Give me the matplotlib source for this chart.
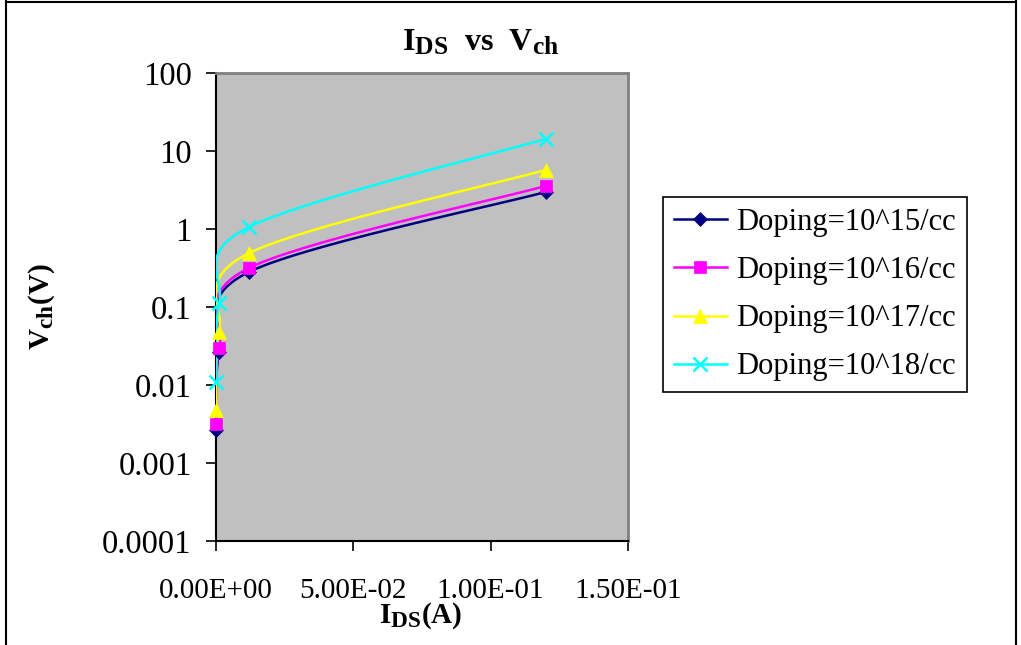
import numpy as np
import matplotlib
matplotlib.use("Agg")
import matplotlib.pyplot as plt
from matplotlib.lines import Line2D
import matplotlib._mathtext as _mt

# ---- data ----
ids = [1.2e-4, 1.2e-3, 1.2e-2, 1.2e-1]
vch_1e15 = [0.00265, 0.0265, 0.281, 2.98]
vch_1e16 = [0.00316, 0.0298, 0.316, 3.56]
vch_1e17 = [0.0048, 0.0478, 0.49, 5.71]
vch_1e18 = [0.011, 0.112, 1.06, 14.3]
series_labels = ["Doping=10^15/cc", "Doping=10^16/cc", "Doping=10^17/cc", "Doping=10^18/cc"]
y_ticks = [1e-4, 1e-3, 1e-2, 1e-1, 1, 10, 100]
y_ticklabels = ["0.0001", "0.001", "0.01", "0.1", "1", "10", "100"]
x_ticks = [0.0, 0.05, 0.10, 0.15]
x_ticklabels = ["0.00E+00", "5.00E-02", "1.00E-01", "1.50E-01"]

_mt.SHRINK_FACTOR = 0.8  # Excel-like larger subscripts

plt.rcParams['font.family'] = ['Liberation Serif', 'DejaVu Serif']
plt.rcParams['mathtext.fontset'] = 'custom'
plt.rcParams['mathtext.rm'] = 'Liberation Serif'
plt.rcParams['mathtext.bf'] = 'Liberation Serif:bold'
plt.rcParams['mathtext.it'] = 'Liberation Serif:italic'

W, H = 1021, 645
fig = plt.figure(figsize=(W / 100, H / 100), dpi=100)
fig.patch.set_facecolor('white')

ax_l, ax_r, ax_t, ax_b = 216, 628, 73, 541
ax = fig.add_axes([ax_l / W, 1 - ax_b / H, (ax_r - ax_l) / W, (ax_b - ax_t) / H])
ax.set_facecolor('#C0C0C0')
ax.set_yscale('log')
ax.set_xlim(0, 0.15)
ax.set_ylim(1e-4, 100)

# outer chart border
for xs, ys in [([5.5, 5.5], [0, 645]), ([1016, 1016], [0, 645]), ([5.5, 1016], [1.5, 1.5])]:
    fig.add_artist(Line2D([x / W for x in xs], [1 - y / H for y in ys], color='black', lw=1.5))

pw, ph = ax_r - ax_l, ax_b - ax_t
xmin, xmax = 0, 0.15
lmin, lmax = -4, 2


def smooth(xd, yd, n=40):
    # Excel-like smoothing (Catmull-Rom Bezier) in screen space
    u = np.array(xd) / (xmax - xmin) * pw
    v = (np.log10(yd) - lmin) / (lmax - lmin) * ph
    P = np.column_stack([u, v])
    pts = []
    m = len(P)
    for i in range(m - 1):
        p0 = P[max(i - 1, 0)]
        p1 = P[i]
        p2 = P[i + 1]
        p3 = P[min(i + 2, m - 1)]
        c1 = p1 + (p2 - p0) / 6
        c2 = p2 - (p3 - p1) / 6
        t = np.linspace(0, 1, n)[:, None]
        seg = ((1 - t) ** 3) * p1 + 3 * ((1 - t) ** 2) * t * c1 + 3 * (1 - t) * t ** 2 * c2 + t ** 3 * p2
        pts.append(seg if i == 0 else seg[1:])
    pts = np.vstack(pts)
    xs = pts[:, 0] / pw * (xmax - xmin)
    ys = 10 ** (pts[:, 1] / ph * (lmax - lmin) + lmin)
    return xs, ys


colors = ['#000080', '#FF00FF', '#FFFF00', '#00FFFF']
markers = ['D', 's', '^', 'x']
msizes = [7.5, 8, 10, 10]
all_series = [vch_1e15, vch_1e16, vch_1e17, vch_1e18]
handles = []
for s, c, mk, ms, lab in zip(all_series, colors, markers, msizes, series_labels):
    xs, ys = smooth(ids, s)
    ax.plot(xs, ys, color=c, lw=1.8, zorder=3)
    mew = 1.8 if mk == 'x' else 0.5
    ax.plot(ids, s, linestyle='none', marker=mk, color=c, markersize=ms,
            markeredgewidth=mew, zorder=4, clip_on=False)
    handles.append(Line2D([], [], color=c, lw=1.8, marker=mk, markersize=ms,
                          markeredgewidth=mew))

ax.set_yticks(y_ticks)
ax.set_yticklabels(y_ticklabels)
ax.yaxis.set_minor_locator(matplotlib.ticker.NullLocator())
ax.set_xticks(x_ticks)
ax.set_xticklabels(x_ticklabels)
ax.tick_params(axis='y', direction='out', length=7.5, width=1.2, pad=10, labelsize=23.5, color='black')
ax.tick_params(axis='x', direction='out', length=7.5, width=1.2, pad=19, labelsize=21, color='black')

for side in ['top', 'right']:
    ax.spines[side].set_color('#808080')
    ax.spines[side].set_linewidth(2)
for side in ['left', 'bottom']:
    ax.spines[side].set_color('black')
    ax.spines[side].set_linewidth(1.5)

fig.text(481 / W, 1 - 43 / H, r'$\mathbf{I_{DS}}$  $\mathbf{vs}$  $\mathbf{V_{ch}}$', ha='center', va='center',
         fontsize=23)
fig.text(421 / W, 1 - 616 / H, r'$\mathbf{I_{DS}(A)}$', ha='center', va='center', fontsize=21)
fig.text(42 / W, 1 - 307 / H, r'$\mathbf{V_{ch}(V)}$', ha='center', va='center', fontsize=21,
         rotation=90)

leg = fig.legend(handles=handles, labels=series_labels, loc='upper left',
                 bbox_to_anchor=(663 / W, 1 - 197 / H), frameon=True, fancybox=False,
                 edgecolor='black', framealpha=1, fontsize=22, handlelength=1.75,
                 handletextpad=0.3, labelspacing=0.63, borderpad=0.35, borderaxespad=0,
                 numpoints=1)
leg.get_frame().set_linewidth(1.2)

fig.savefig('out.png', dpi=100, facecolor='white')
